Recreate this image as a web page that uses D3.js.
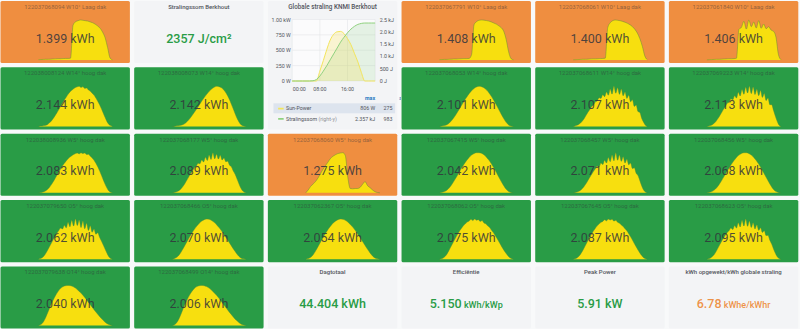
<!DOCTYPE html>
<html><head><meta charset="utf-8">
<script src="https://cdn.jsdelivr.net/npm/d3@7"></script>
<style>
html,body{margin:0;padding:0;background:#f8f9fa;}
svg{display:block;font-family:Roboto,"Noto Sans",sans-serif;}
</style></head><body>
<svg id="c" width="800" height="329"></svg>
<script>
// ---------- DATA ----------
const invTitles = [
 "122037068094 W10° Laag dak","122037067791 W10° Laag dak","122037068061 W10° Laag dak","122037061840 W10° Laag dak",
 "122038008124 W14° hoog dak","122038008073 W14° hoog dak","122037068053 W14° hoog dak","122037068611 W14° hoog dak","122037069223 W14° hoog dak",
 "122038008936 W5° hoog dak","122037068177 W5° hoog dak","122037068060 W5° hoog dak","122037067415 W5° hoog dak","122037068457 W5° hoog dak","122037068456 W5° hoog dak",
 "122037079650 O5° hoog dak","122037068466 O5° hoog dak","122037062367 O5° hoog dak","122037068062 O5° hoog dak","122037067645 O5° hoog dak","122037068623 O5° hoog dak",
 "122037079638 O14° hoog dak","122037068499 O14° hoog dak"
];
const invValues = [1.399,1.408,1.400,1.406, 2.144,2.142,2.101,2.107,2.113, 2.083,2.089,1.275,2.042,2.071,2.068, 2.062,2.070,2.054,2.075,2.087,2.095, 2.040,2.006];

// sparkline power series (W) per inverter
const s068094 = [3,4,5,6,6,7,8,9,10,10,11,12,12,14,250,275,283,288,286,283,280,274,268,258,245,228,200,160,90,15,2];
const s067791 = [3,4,5,5,6,7,8,8,9,10,11,11,12,40,258,280,290,292,291,288,284,278,270,262,250,236,210,150,60,10,2];
const s068061 = [2,3,4,5,6,6,7,8,9,9,10,11,12,14,235,270,285,290,288,285,280,274,266,256,242,222,195,155,100,30,3];
const s061840 = [2,3,4,5,6,6,7,8,9,10,10,11,14,230,245,290,232,300,250,285,240,295,238,270,235,250,225,215,170,40,3];
const s008124 = [0,3,3,6,8,14,25,38,55,74,94,116,138,160,182,201,220,237,248,259,267,272,275,267,272,261,264,250,242,228,215,195,173,149,121,91,61,33,14,6,0];
const s008073 = [0,2,4,6,10,18,32,50,72,96,120,146,172,196,218,238,254,266,272,270,262,246,222,190,150,108,66,32,10,3,0];
const s068053 = [0,3,6,12,24,42,64,90,118,146,174,200,224,244,260,270,274,272,264,250,230,206,178,148,116,84,54,28,10,3,0];
const s068611 = [0,4,8,14,24,38,56,78,100,118,140,150,172,178,200,196,222,208,240,218,262,226,280,232,270,224,262,214,240,196,218,172,186,140,150,104,98,56,30,8,0];
const s069223 = [0,3,7,12,22,36,54,74,96,118,136,160,166,190,184,212,196,236,210,254,222,270,230,276,226,272,220,256,212,248,200,226,178,196,150,150,110,70,34,8,0];
const s008936 = [0,2,4,8,14,24,38,56,76,98,120,142,164,184,202,218,232,244,254,262,268,272,266,274,268,272,262,264,250,238,222,202,178,150,120,88,58,32,12,4,0];
const s068177 = [0,2,5,10,18,30,46,66,88,110,132,150,172,182,204,200,226,212,244,222,260,230,276,234,266,232,258,226,240,214,218,190,180,150,128,96,64,34,14,4,0];
const s068060 = [0,20,45,62,80,105,135,165,190,215,240,255,266,274,278,280,260,110,30,28,30,30,38,60,78,50,36,20,8,2,0];
const s067415 = [0,3,8,18,34,56,82,110,140,168,194,218,238,254,264,270,270,266,256,240,220,196,168,138,106,76,48,24,8,2,0];
const s068457 = [0,2,5,10,18,30,46,64,86,108,128,150,166,186,180,206,196,226,206,244,216,262,222,278,226,262,218,250,206,232,194,206,168,174,136,120,84,48,20,6,0];
const s068456 = [0,3,8,18,34,56,82,110,138,166,192,216,236,252,262,268,268,262,252,236,216,192,164,134,104,74,46,22,8,2,0];
const s079650 = [0,4,10,22,40,62,86,110,134,156,178,196,212,206,232,214,252,222,266,226,274,230,268,216,260,208,246,196,228,184,206,170,180,150,124,96,68,40,16,4,0];
const s068466 = [0,4,14,32,58,88,118,148,176,202,224,244,258,268,272,270,262,250,234,214,192,168,142,116,90,64,40,20,6,2,0];
const s062367 = [0,4,12,30,56,86,116,146,174,200,222,242,256,266,270,268,262,250,234,216,194,170,144,118,92,66,42,22,8,2,0];
const s068062 = [0,3,8,18,34,56,80,104,128,152,174,194,212,228,240,252,258,270,262,272,264,268,256,262,246,240,226,216,198,182,162,142,120,98,76,56,38,22,10,3,0];
const s067645 = [0,3,8,18,34,54,78,102,126,150,172,192,210,226,238,250,256,268,260,272,266,270,258,264,250,244,232,222,206,192,172,152,130,106,84,62,42,24,10,3,0];
const s068623 = [0,3,8,18,32,52,76,100,124,146,166,184,196,214,204,232,214,250,222,268,228,276,226,262,218,250,208,236,198,216,184,196,162,164,130,104,70,40,16,4,0];
const s079638 = [0,6,24,56,96,136,172,204,230,250,262,268,270,268,262,252,238,222,204,184,162,140,118,96,76,56,38,22,10,4,0];
const s068499 = [0,5,22,52,92,132,168,200,226,246,258,264,266,264,258,248,234,218,200,180,158,136,114,92,72,52,34,20,8,3,0];
const sparks = [s068094,s067791,s068061,s061840,s008124,s008073,s068053,s068611,s069223,s008936,s068177,s068060,s067415,s068457,s068456,s079650,s068466,s062367,s068062,s067645,s068623,s079638,s068499];

// Globale straling chart
const hours = [0,1,2,3,4,5,6,7,8,9,10,11,12,13,14,15,16,17,18,19,20,21,22,23,24];
const sunPower = [0,0,0,0,0,0,0,0,160,330,510,665,760,800,806,770,690,590,450,310,140,0,0,0,0];
const stralingssom = [0,0,0,0,0,0,10,60,200,400,620,860,1100,1340,1580,1780,1960,2110,2220,2300,2340,2357,2357,2357,2357];
const leftTicks = [0,250,500,750,1000];
const leftTickLabels = ["0 W","250 W","500 W","750 W","1.00 kW"];
const rightTicks = [0,500,1000,1500,2000,2500];
const rightTickLabels = ["0 J","500 J","1.0 kJ","1.5 kJ","2.0 kJ","2.5 kJ"];
const xTicks = [0,8,16];
const xTickLabels = ["00:00","08:00","16:00"];
const legendNames = ["Sun-Power","Stralingssom"];
const legendMax = ["806 W","2.357 kJ"];
const legendAvg = ["275 W","983 J"];

// stat panels
const statTitles = ["Stralingssom Berkhout","Dagtotaal","Efficiëntie","Peak Power","kWh opgewekt/kWh globale straling"];
const statValues = ["2357","44.404","5.150","5.91","6.78"];
const statUnits = [" J/cm²"," kWh"," kWh/kWp"," kW"," kWhe/kWhr"];

// ---------- LAYOUT ----------
const invSlots = [[0,0],[3,0],[4,0],[5,0],[0,1],[1,1],[3,1],[4,1],[5,1],[0,2],[1,2],[2,2],[3,2],[4,2],[5,2],[0,3],[1,3],[2,3],[3,3],[4,3],[5,3],[0,4],[1,4]];
const statSlots = [[1,0],[2,4],[3,4],[4,4],[5,4]];
const statUnitSmall = [false,false,true,false,true];
const statColors = ["#299c46","#299c46","#299c46","#299c46","rgba(237,129,40,0.85)"];

const svg = d3.select("#c");
const col = d3.scaleBand().domain(d3.range(6)).range([0.5,798.3]).paddingInner(0.032);
const row = d3.scaleBand().domain(d3.range(5)).range([1,328.5]).paddingInner(0.064);
const bw = col.bandwidth(), bh = row.bandwidth();
const statusColor = d3.scaleThreshold().domain([1.5]).range(["#ef8e40","#299c46"]);
const panelBg = "#f3f4f6";
const fmt3 = d3.format(".3f");

// inverter panels
invSlots.forEach(([c,r],k) => {
  const v = invValues[k], s = sparks[k];
  const g = svg.append("g").attr("transform",`translate(${col(c)},${row(r)})`);
  g.append("rect").attr("width",bw).attr("height",bh).attr("rx",1.5).attr("fill",statusColor(v));
  const sx = d3.scaleLinear().domain([0,s.length-1]).range([bw*0.293,bw*0.866]);
  const sy = d3.scaleLinear().domain([0,d3.max(s)]).range([bh-3,19]);
  g.append("path").datum(s)
    .attr("d",d3.area().x((d,i)=>sx(i)).y0(bh-3).y1(d=>sy(d)).curve(d3.curveMonotoneX))
    .attr("fill","#f7df0f");
  g.append("path").datum(s)
    .attr("d",d3.line().x((d,i)=>sx(i)).y(d=>sy(d)).curve(d3.curveMonotoneX))
    .attr("fill","none").attr("stroke","rgba(80,140,50,0.55)").attr("stroke-width",0.8);
  g.append("text").attr("x",bw/2).attr("y",8).attr("text-anchor","middle")
    .attr("font-size",6).attr("fill","rgba(50,52,60,0.5)").text(invTitles[k]);
  g.append("text").attr("x",bw/2).attr("y",41.5).attr("text-anchor","middle")
    .attr("font-size",12.5).attr("font-weight",400).attr("fill","rgba(50,52,60,0.85)")
    .text(fmt3(v)+" kWh");
});

// stat panels
statSlots.forEach(([c,r],k) => {
  const g = svg.append("g").attr("transform",`translate(${col(c)},${row(r)})`);
  g.append("rect").attr("width",bw).attr("height",bh).attr("rx",1.5).attr("fill",panelBg);
  g.append("text").attr("x",bw/2).attr("y",8).attr("text-anchor","middle")
    .attr("font-size",6).attr("font-weight",500).attr("fill","#52545c").text(statTitles[k]);
  const t = g.append("text").attr("x",bw/2).attr("y",41.5).attr("text-anchor","middle")
    .attr("font-weight",500).attr("fill",statColors[k]);
  t.append("tspan").attr("font-size",12.5).text(statValues[k]);
  t.append("tspan").attr("font-size",statUnitSmall[k]?9:12.5).text(statUnits[k]);
});

// chart panel
{
  const c0 = col(2), r0 = row(0);
  const ch = row(1)+bh-r0;
  const g = svg.append("g").attr("transform",`translate(${c0},${r0})`);
  g.append("rect").attr("width",bw).attr("height",ch).attr("rx",1.5).attr("fill",panelBg);
  g.append("text").attr("x",bw/2).attr("y",8).attr("text-anchor","middle")
    .attr("font-size",6.3).attr("font-weight",500).attr("fill","#52545c").text("Globale straling KNMI Berkhout");
  const x = d3.scaleLinear().domain([0,24]).range([24.3,107.3]);
  const yL = d3.scaleLinear().domain([0,1000]).range([80,18.5]);
  const yR = d3.scaleLinear().domain([0,2500]).range([80,18.5]);
  g.append("rect").attr("x",x(0)).attr("y",yL(1000)).attr("width",x(24)-x(0)).attr("height",yL(0)-yL(1000)).attr("fill","#fbfbfc");
  // grid
  g.selectAll(".gy").data(leftTicks).join("line")
    .attr("x1",x(0)).attr("x2",x(24)).attr("y1",d=>yL(d)).attr("y2",d=>yL(d))
    .attr("stroke","#e4e6ea").attr("stroke-width",0.6);
  g.selectAll(".gx").data(xTicks.concat([24])).join("line")
    .attr("x1",d=>x(d)).attr("x2",d=>x(d)).attr("y1",yL(0)).attr("y2",yL(1000))
    .attr("stroke","#e4e6ea").attr("stroke-width",0.6);
  // series
  g.append("path").datum(stralingssom)
    .attr("d",d3.area().x((d,i)=>x(hours[i])).y0(yR(0)).y1(d=>yR(d)).curve(d3.curveMonotoneX))
    .attr("fill","rgba(115,191,105,0.16)");
  g.append("path").datum(sunPower)
    .attr("d",d3.area().x((d,i)=>x(hours[i])).y0(yL(0)).y1(d=>yL(d)).curve(d3.curveMonotoneX))
    .attr("fill","rgba(250,222,42,0.2)");
  g.append("path").datum(sunPower)
    .attr("d",d3.line().x((d,i)=>x(hours[i])).y(d=>yL(d)).curve(d3.curveMonotoneX))
    .attr("fill","none").attr("stroke","#f3e55c").attr("stroke-width",1);
  g.append("path").datum(stralingssom)
    .attr("d",d3.line().x((d,i)=>x(hours[i])).y(d=>yR(d)).curve(d3.curveMonotoneX))
    .attr("fill","none").attr("stroke","#8fd17f").attr("stroke-width",1);
  // axes labels
  g.selectAll(".ly").data(leftTicks).join("text")
    .attr("x",x(0)-1.5).attr("y",d=>yL(d)+2).attr("text-anchor","end")
    .attr("font-size",5.3).attr("fill","#52545c").text((d,i)=>leftTickLabels[i]);
  g.selectAll(".ry").data(rightTicks).join("text")
    .attr("x",x(24)+4.5).attr("y",d=>yR(d)+2).attr("text-anchor","start")
    .attr("font-size",5.3).attr("fill","#52545c").text((d,i)=>rightTickLabels[i]);
  g.selectAll(".lx").data(xTicks).join("text")
    .attr("x",d=>x(d)+(d===0?0.5:0)).attr("y",89.5).attr("text-anchor",d=>d===0?"start":"middle")
    .attr("font-size",5.3).attr("fill","#52545c").text((d,i)=>xTickLabels[i]);
  // legend
  const clip = svg.append("clipPath").attr("id","legclip");
  clip.append("rect").attr("x",0).attr("y",0).attr("width",bw+3.5).attr("height",ch);
  const lg = g.append("g").attr("clip-path","url(#legclip)");
  lg.append("rect").attr("x",5.6).attr("y",102.3).attr("width",121.7).attr("height",10).attr("fill","#dde4ee");
  lg.append("text").attr("x",107.3).attr("y",98.6).attr("text-anchor","end")
    .attr("font-size",5.3).attr("font-weight",700).attr("fill","#1f78c1").text("max");
  lg.append("text").attr("x",131.5).attr("y",98.6).attr("text-anchor","start")
    .attr("font-size",5.3).attr("font-weight",700).attr("fill","#1f78c1").text("avg");
  const legCols = ["#f3e55c","#8fd17f"];
  const ly = [109.4,119.6];
  legendNames.forEach((n,i)=>{
    lg.append("line").attr("x1",10.3).attr("x2",15.8).attr("y1",ly[i]-1.8).attr("y2",ly[i]-1.8)
      .attr("stroke",legCols[i]).attr("stroke-width",1.8);
    const t = lg.append("text").attr("x",18.2).attr("y",ly[i]).attr("font-size",5.3).attr("fill","#52545c");
    t.append("tspan").text(n);
    if (i===1) t.append("tspan").attr("fill","#8e9096").text(" (right-y)");
    lg.append("text").attr("x",107.3).attr("y",ly[i]).attr("text-anchor","end")
      .attr("font-size",5.3).attr("fill","#52545c").text(legendMax[i]);
    lg.append("text").attr("x",115.6).attr("y",ly[i]).attr("text-anchor","start")
      .attr("font-size",5.3).attr("fill","#52545c").text(legendAvg[i].split(" ")[0]);
  });
}
</script>
</body></html>
